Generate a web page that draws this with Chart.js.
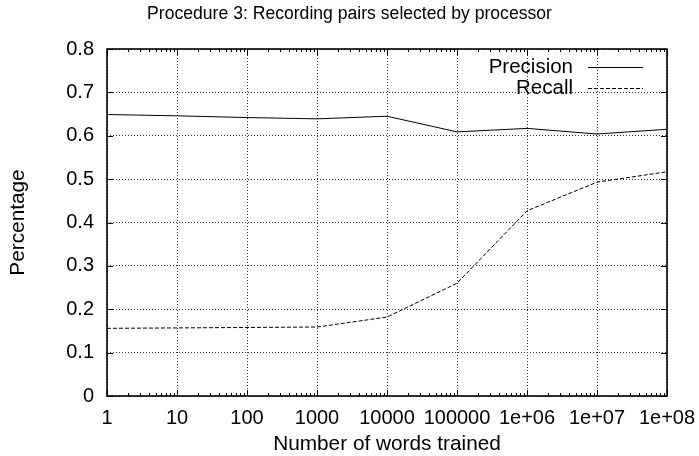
<!DOCTYPE html>
<html>
<head>
<meta charset="utf-8">
<script src="https://cdn.jsdelivr.net/npm/chart.js@4/dist/chart.umd.min.js"></script>
<style>
  html, body { margin: 0; padding: 0; background: #fff; }
  #wrap { width: 699px; height: 456px; }
</style>
</head>
<body>
<div id="wrap"><canvas id="c" width="699" height="456"></canvas></div>
<script>
// ---- data ----
const wordsTrained = [1, 10, 100, 1000, 10000, 100000, 1e6, 1e7, 1e8];
const xTickLabels = ['1', '10', '100', '1000', '10000', '100000', '1e+06', '1e+07', '1e+08'];
const precision = [0.649, 0.646, 0.642, 0.639, 0.645, 0.609, 0.617, 0.604, 0.615];
const recall = [0.156, 0.157, 0.158, 0.159, 0.182, 0.260, 0.427, 0.493, 0.517];
const yTickLabels = ['0', '0.1', '0.2', '0.3', '0.4', '0.5', '0.6', '0.7', '0.8'];
const seriesNames = ['Precision', 'Recall'];
const titleText = 'Procedure 3: Recording pairs selected by processor';
const xTitle = 'Number of words trained';
const yTitle = 'Percentage';

const FONT = "'Liberation Sans', Arial, Helvetica, sans-serif";

// major + minor tick values for the log axis
function logTicks() {
  const out = [];
  for (let i = 0; i < wordsTrained.length; i++) {
    const d = wordsTrained[i];
    out.push({ value: d, major: true });
    if (i < wordsTrained.length - 1) {
      for (let m = 2; m <= 9; m++) out.push({ value: d * m, major: false });
    }
  }
  return out;
}
const isMajor = v => wordsTrained.indexOf(v) >= 0;

const frameAndTicks = {
  id: 'frameAndTicks',
  afterDatasetsDraw(chart) {
    const { ctx, chartArea: a, scales } = chart;
    const xs = scales.x, ys = scales.y;
    ctx.save();
    ctx.strokeStyle = '#000';
    ctx.lineWidth = 1;
    xs.ticks.forEach(t => {
      const px = Math.round(xs.getPixelForValue(t.value)) + 0.5;
      const len = isMajor(t.value) ? 6 : 3;
      ctx.beginPath();
      ctx.moveTo(px, a.bottom); ctx.lineTo(px, a.bottom - len);
      ctx.moveTo(px, a.top); ctx.lineTo(px, a.top + len);
      ctx.stroke();
    });
    ys.ticks.forEach(t => {
      const py = Math.round(ys.getPixelForValue(t.value)) + 0.5;
      ctx.beginPath();
      ctx.moveTo(a.left, py); ctx.lineTo(a.left + 6, py);
      ctx.moveTo(a.right, py); ctx.lineTo(a.right - 6, py);
      ctx.stroke();
    });
    ctx.lineWidth = 1.6;
    ctx.strokeRect(Math.round(a.left), Math.round(a.top), Math.round(a.right - a.left), Math.round(a.bottom - a.top));
    // legend (gnuplot style)
    ctx.font = '20.5px ' + FONT;
    ctx.fillStyle = '#000';
    ctx.textAlign = 'right';
    ctx.textBaseline = 'middle';
    chart.data.datasets.forEach((ds, i) => {
      const y = a.top + 18 + i * 21;
      ctx.fillText(ds.label, a.right - 94, y);
      ctx.beginPath();
      ctx.lineWidth = 1;
      ctx.setLineDash(ds.borderDash || []);
      ctx.moveTo(a.right - 79, Math.round(y) + 0.5);
      ctx.lineTo(a.right - 24, Math.round(y) + 0.5);
      ctx.stroke();
      ctx.setLineDash([]);
    });
    ctx.restore();
  }
};

new Chart(document.getElementById('c'), {
  type: 'line',
  data: {
    datasets: [
      {
        label: seriesNames[0],
        data: wordsTrained.map((x, i) => ({ x, y: precision[i] })),
        borderColor: '#000',
        borderWidth: 1,
        pointRadius: 0,
        fill: false,
        tension: 0
      },
      {
        label: seriesNames[1],
        data: wordsTrained.map((x, i) => ({ x, y: recall[i] })),
        borderColor: '#000',
        borderWidth: 1,
        borderDash: [4, 2],
        pointRadius: 0,
        fill: false,
        tension: 0
      }
    ]
  },
  options: {
    responsive: false,
    animation: false,
    devicePixelRatio: 1,
    layout: { padding: 0 },
    plugins: {
      legend: { display: false },
      tooltip: { enabled: false },
      title: {
        display: true,
        text: titleText,
        color: '#000',
        font: { family: FONT, size: 17.6, weight: 'normal', lineHeight: 1.2 },
        padding: { top: 4, bottom: 23.9 }
      }
    },
    scales: {
      x: {
        type: 'logarithmic',
        min: 1,
        max: 1e8,
        afterBuildTicks: s => { s.ticks = logTicks(); },
        afterFit: s => { s.height = 60; s.paddingLeft = 0; s.paddingRight = 0; },
        grid: {
          drawTicks: false,
          color: ctx => (ctx.tick && isMajor(ctx.tick.value)) ? '#333' : 'rgba(0,0,0,0)',
          lineWidth: 1
        },
        border: { display: false, dash: [1, 2] },
        ticks: {
          autoSkip: false,
          maxRotation: 0,
          minRotation: 0,
          padding: 10,
          color: '#000',
          font: { family: FONT, size: 20 },
          callback: function (value) {
            const i = wordsTrained.indexOf(value);
            return i >= 0 ? xTickLabels[i] : '';
          }
        },
        title: {
          display: true,
          text: xTitle,
          color: '#000',
          font: { family: FONT, size: 20.8, lineHeight: 0.9 },
          padding: { top: 0, bottom: 2 }
        }
      },
      y: {
        min: 0,
        max: 0.8,
        afterFit: s => { s.width = 107; },
        ticks: {
          stepSize: 0.1,
          padding: 13,
          color: '#000',
          font: { family: FONT, size: 20 },
          callback: (v, i) => yTickLabels[i]
        },
        grid: { drawTicks: false, color: '#333', lineWidth: 1 },
        border: { display: false, dash: [1, 2] },
        title: {
          display: true,
          text: yTitle,
          color: '#000',
          font: { family: FONT, size: 20.8, lineHeight: 0.9 },
          padding: { top: 9, bottom: 0 }
        }
      },
      spacer: {
        type: 'linear',
        position: 'right',
        display: true,
        afterFit: s => { s.width = 32; },
        grid: { display: false, drawTicks: false },
        border: { display: false },
        ticks: { display: false }
      }
    }
  },
  plugins: [frameAndTicks]
});
</script>
</body>
</html>
